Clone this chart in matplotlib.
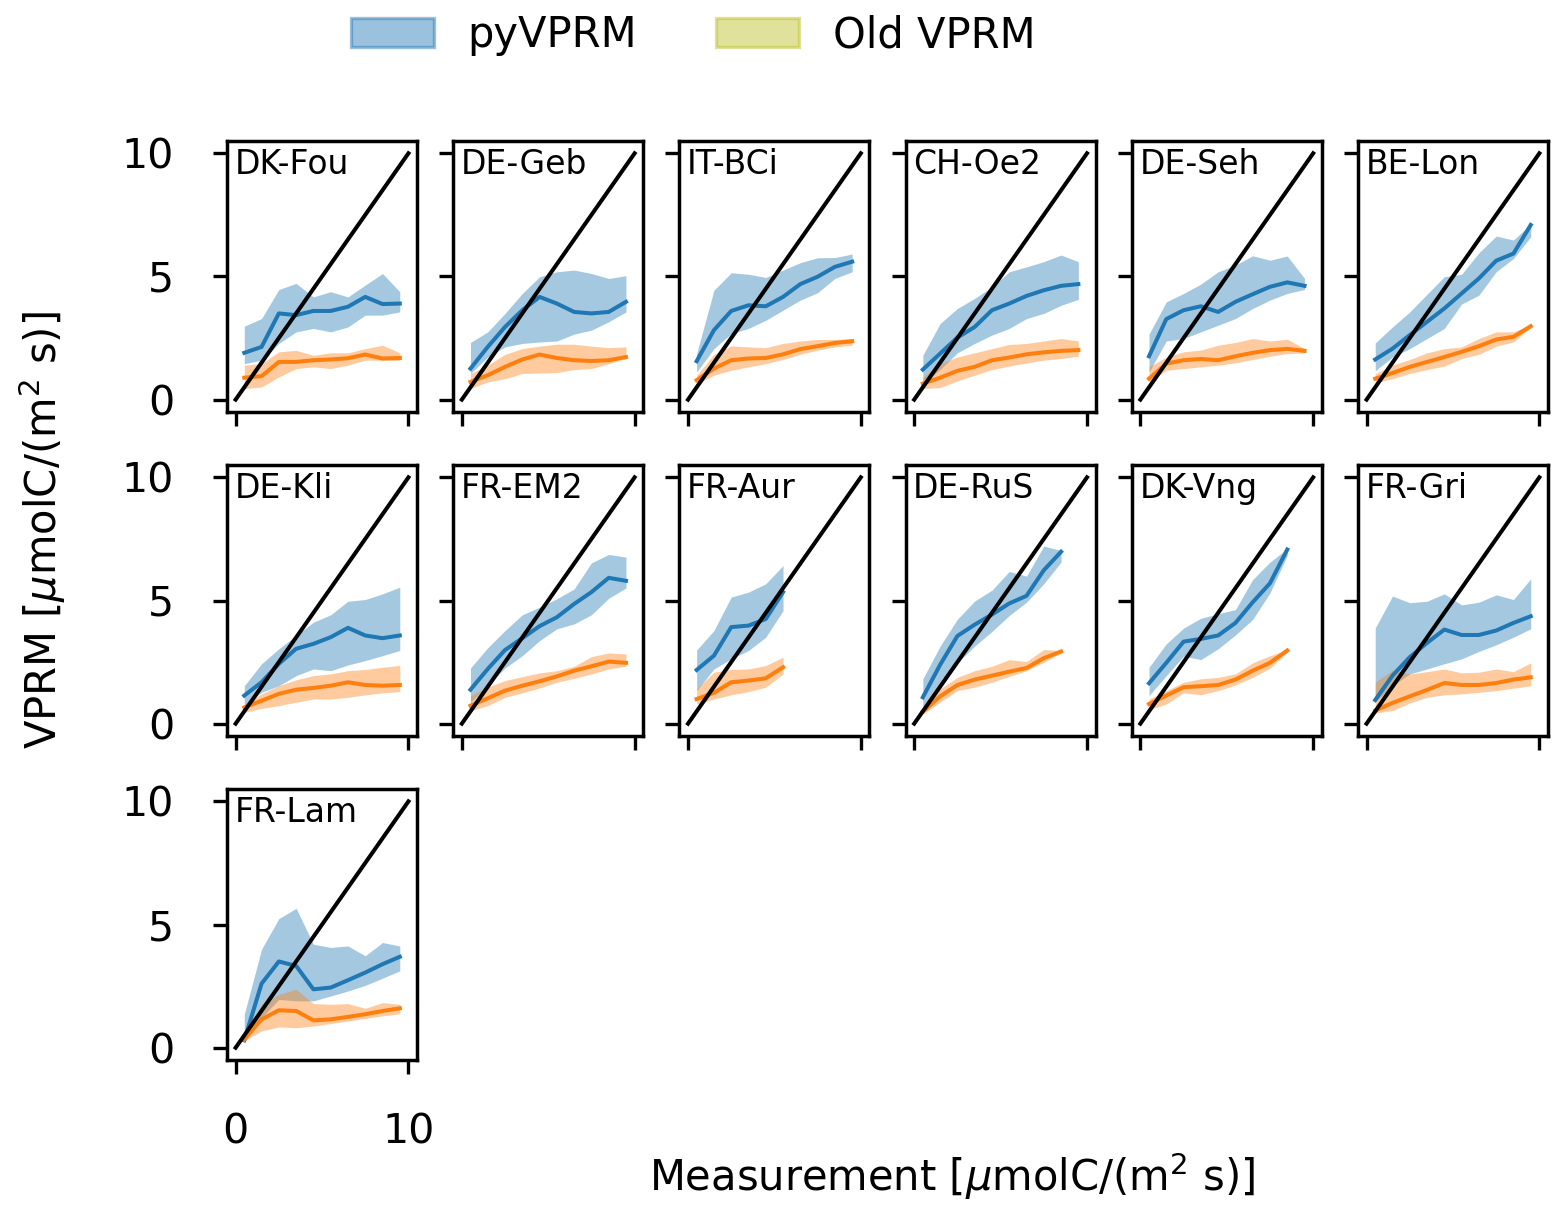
import numpy as np
import matplotlib
matplotlib.use("Agg")
import matplotlib.pyplot as plt
import matplotlib.patches as mpatches

# ---------------- data ----------------
sites = ["DK-Fou", "DE-Geb", "IT-BCi", "CH-Oe2", "DE-Seh", "BE-Lon",
         "DE-Kli", "FR-EM2", "FR-Aur", "DE-RuS", "DK-Vng", "FR-Gri", "FR-Lam"]

bin_centers = [0.5, 1.5, 2.5, 3.5, 4.5, 5.5, 6.5, 7.5, 8.5, 9.5]

py_mid = {
    "DK-Fou": [1.90, 2.14, 3.50, 3.43, 3.60, 3.60, 3.77, 4.17, 3.88, 3.90],
    "DE-Geb": [1.26, 2.14, 2.95, 3.63, 4.17, 3.90, 3.56, 3.50, 3.56, 3.97],
    "IT-BCi": [1.56, 2.82, 3.60, 3.83, 3.79, 4.17, 4.69, 4.99, 5.39, 5.60],
    "CH-Oe2": [1.22, 1.87, 2.52, 2.95, 3.63, 3.90, 4.21, 4.44, 4.62, 4.69],
    "DE-Seh": [1.76, 3.27, 3.63, 3.79, 3.56, 3.97, 4.28, 4.58, 4.76, 4.62],
    "BE-Lon": [1.63, 2.07, 2.62, 3.16, 3.70, 4.31, 4.92, 5.64, 5.93, 7.09],
    "DE-Kli": [1.14, 1.68, 2.43, 3.04, 3.24, 3.51, 3.89, 3.58, 3.47, 3.58],
    "FR-EM2": [1.38, 2.22, 2.99, 3.47, 3.96, 4.32, 4.86, 5.34, 5.92, 5.80],
    "FR-Aur": [2.18, 2.76, 3.92, 3.98, 4.25, 5.34],
    "DE-RuS": [1.07, 2.39, 3.56, 4.02, 4.43, 4.88, 5.19, 6.23, 6.98],
    "DK-Vng": [1.64, 2.47, 3.33, 3.44, 3.58, 4.09, 4.93, 5.70, 7.07],
    "FR-Gri": [0.96, 1.95, 2.70, 3.28, 3.82, 3.60, 3.60, 3.78, 4.09, 4.36],
    "FR-Lam": [0.30, 2.60, 3.50, 3.32, 2.37, 2.44, 2.74, 3.05, 3.39, 3.69],
}
py_hi = {
    "DK-Fou": [2.98, 3.29, 4.47, 4.72, 4.17, 4.38, 4.17, 4.65, 5.12, 4.38],
    "DE-Geb": [2.32, 2.75, 3.50, 4.31, 4.99, 5.19, 5.26, 5.12, 4.92, 5.03],
    "IT-BCi": [1.87, 4.44, 5.15, 5.09, 4.96, 5.26, 5.56, 5.76, 5.77, 5.91],
    "CH-Oe2": [1.80, 3.09, 3.70, 4.11, 4.58, 5.19, 5.39, 5.60, 5.87, 5.60],
    "DE-Seh": [2.66, 3.97, 4.31, 4.69, 5.19, 5.46, 5.84, 5.66, 5.83, 4.92],
    "BE-Lon": [2.30, 2.95, 3.56, 4.28, 4.99, 5.09, 5.96, 6.64, 6.48, 7.13],
    "DE-Kli": [1.54, 2.43, 3.04, 3.58, 4.12, 4.42, 4.97, 5.04, 5.27, 5.54],
    "FR-EM2": [2.26, 3.08, 3.78, 4.42, 4.73, 5.07, 5.47, 6.53, 6.87, 6.76],
    "FR-Aur": [2.99, 3.78, 5.14, 5.34, 5.68, 6.42],
    "DE-RuS": [1.82, 3.15, 4.24, 4.98, 5.42, 6.18, 5.99, 7.21, 7.03],
    "DK-Vng": [2.29, 3.24, 3.88, 4.28, 4.46, 4.63, 5.85, 6.56, 7.10],
    "FR-Gri": [3.88, 5.18, 4.91, 4.97, 5.27, 4.82, 4.93, 5.23, 5.04, 5.88],
    "FR-Lam": [1.36, 4.00, 5.24, 5.66, 4.20, 4.07, 4.13, 3.73, 4.27, 4.13],
}
py_lo = {
    "DK-Fou": [1.46, 1.60, 2.28, 2.75, 2.89, 2.75, 2.95, 3.43, 3.43, 3.56],
    "DE-Geb": [1.06, 1.73, 2.14, 2.28, 2.34, 2.38, 2.66, 2.82, 3.16, 3.56],
    "IT-BCi": [1.12, 2.07, 2.68, 2.89, 3.22, 3.63, 4.04, 4.34, 4.92, 5.19],
    "CH-Oe2": [0.65, 1.22, 1.90, 2.28, 2.62, 2.89, 3.29, 3.50, 3.83, 4.07],
    "DE-Seh": [1.12, 2.38, 2.48, 2.75, 3.02, 3.29, 3.70, 4.04, 4.31, 4.47],
    "BE-Lon": [1.17, 1.73, 2.07, 2.48, 2.89, 3.88, 4.24, 5.19, 5.73, 6.61],
    "DE-Kli": [0.76, 1.27, 1.54, 1.95, 2.22, 2.15, 2.38, 2.56, 2.76, 2.97],
    "FR-EM2": [0.87, 1.54, 2.26, 2.76, 3.37, 3.85, 4.05, 4.42, 5.09, 5.51],
    "FR-Aur": [1.34, 2.22, 2.63, 2.97, 3.51, 4.59],
    "DE-RuS": [0.53, 1.54, 2.47, 3.15, 3.74, 4.39, 4.93, 5.68, 6.56],
    "DK-Vng": [1.14, 1.95, 2.74, 2.60, 3.04, 3.60, 4.23, 5.31, 6.83],
    "FR-Gri": [0.87, 1.54, 2.02, 2.22, 2.43, 2.63, 2.93, 3.20, 3.51, 3.85],
    "FR-Lam": [0.20, 1.22, 1.96, 1.90, 1.90, 2.10, 2.30, 2.53, 2.82, 3.12],
}
old_mid = {
    "DK-Fou": [0.89, 0.95, 1.53, 1.53, 1.60, 1.63, 1.68, 1.83, 1.67, 1.69],
    "DE-Geb": [0.72, 0.99, 1.33, 1.63, 1.83, 1.69, 1.60, 1.57, 1.60, 1.73],
    "IT-BCi": [0.79, 1.26, 1.60, 1.67, 1.69, 1.84, 2.05, 2.17, 2.30, 2.37],
    "CH-Oe2": [0.65, 0.89, 1.17, 1.33, 1.60, 1.71, 1.84, 1.92, 1.98, 2.01],
    "DE-Seh": [0.85, 1.46, 1.60, 1.65, 1.60, 1.76, 1.90, 2.01, 2.06, 1.98],
    "BE-Lon": [0.85, 1.08, 1.33, 1.53, 1.73, 1.94, 2.17, 2.44, 2.55, 2.98],
    "DE-Kli": [0.66, 0.93, 1.21, 1.38, 1.45, 1.54, 1.68, 1.57, 1.54, 1.57],
    "FR-EM2": [0.73, 1.03, 1.34, 1.54, 1.72, 1.92, 2.15, 2.33, 2.52, 2.47],
    "FR-Aur": [1.00, 1.25, 1.68, 1.75, 1.84, 2.29],
    "DE-RuS": [0.49, 1.11, 1.57, 1.79, 1.95, 2.11, 2.26, 2.66, 2.93],
    "DK-Vng": [0.80, 1.14, 1.48, 1.52, 1.57, 1.79, 2.15, 2.47, 2.97],
    "FR-Gri": [0.53, 0.84, 1.11, 1.37, 1.65, 1.57, 1.57, 1.65, 1.79, 1.88],
    "FR-Lam": [0.34, 1.15, 1.52, 1.49, 1.11, 1.15, 1.25, 1.36, 1.49, 1.60],
}
old_hi = {
    "DK-Fou": [1.40, 1.46, 1.94, 2.00, 1.80, 1.90, 1.90, 2.07, 2.21, 1.90],
    "DE-Geb": [1.06, 1.40, 1.84, 2.07, 2.17, 2.25, 2.25, 2.17, 2.11, 2.14],
    "IT-BCi": [0.99, 1.84, 2.18, 2.14, 2.11, 2.28, 2.38, 2.44, 2.44, 2.48],
    "CH-Oe2": [0.92, 1.46, 1.73, 1.90, 2.07, 2.24, 2.28, 2.38, 2.48, 2.38],
    "DE-Seh": [1.33, 1.73, 1.94, 2.01, 2.21, 2.32, 2.48, 2.38, 2.45, 2.07],
    "BE-Lon": [1.06, 1.40, 1.63, 1.90, 2.07, 2.14, 2.48, 2.75, 2.75, 3.02],
    "DE-Kli": [0.80, 1.21, 1.54, 1.78, 1.95, 2.02, 2.15, 2.20, 2.29, 2.36],
    "FR-EM2": [1.14, 1.48, 1.75, 1.91, 2.06, 2.15, 2.33, 2.72, 2.87, 2.83],
    "FR-Aur": [1.41, 2.09, 2.20, 2.22, 2.36, 2.70],
    "DE-RuS": [0.66, 1.41, 1.88, 2.15, 2.33, 2.60, 2.52, 3.01, 2.97],
    "DK-Vng": [1.00, 1.34, 1.68, 1.82, 1.88, 2.02, 2.47, 2.76, 2.99],
    "FR-Gri": [1.68, 2.18, 2.02, 2.11, 2.22, 2.06, 2.09, 2.22, 2.11, 2.47],
    "FR-Lam": [0.41, 1.76, 2.17, 2.37, 1.79, 1.76, 1.79, 1.60, 1.83, 1.76],
}
old_lo = {
    "DK-Fou": [0.45, 0.51, 0.92, 1.26, 1.33, 1.26, 1.40, 1.60, 1.60, 1.60],
    "DE-Geb": [0.45, 0.72, 0.85, 1.06, 1.08, 1.10, 1.22, 1.26, 1.46, 1.67],
    "IT-BCi": [0.65, 0.99, 1.19, 1.33, 1.46, 1.63, 1.84, 2.01, 2.14, 2.21],
    "CH-Oe2": [0.45, 0.49, 0.76, 0.99, 1.22, 1.36, 1.49, 1.60, 1.67, 1.76],
    "DE-Seh": [0.72, 1.19, 1.26, 1.33, 1.40, 1.49, 1.63, 1.76, 1.87, 1.90],
    "BE-Lon": [0.68, 0.85, 1.06, 1.22, 1.36, 1.67, 1.84, 2.17, 2.34, 2.93],
    "DE-Kli": [0.46, 0.62, 0.73, 0.87, 1.00, 1.00, 1.07, 1.17, 1.25, 1.30],
    "FR-EM2": [0.53, 0.73, 1.07, 1.25, 1.45, 1.68, 1.84, 2.02, 2.22, 2.33],
    "FR-Aur": [0.80, 1.00, 1.17, 1.30, 1.48, 2.02],
    "DE-RuS": [0.39, 0.87, 1.34, 1.48, 1.68, 1.92, 2.15, 2.49, 2.87],
    "DK-Vng": [0.57, 0.80, 1.25, 1.17, 1.34, 1.57, 1.88, 2.25, 2.90],
    "FR-Gri": [0.43, 0.53, 0.84, 1.07, 1.17, 1.21, 1.27, 1.34, 1.44, 1.54],
    "FR-Lam": [0.27, 0.68, 0.84, 0.81, 0.88, 0.98, 1.08, 1.19, 1.29, 1.38],
}

one_to_one = [0, 10]
xticks = [0, 10]
yticks = [0, 5, 10]
legend_labels = ["pyVPRM", "Old VPRM"]
xlabel = r"Measurement [$\mu$molC/(m$^2$ s)]"
ylabel = r"VPRM [$\mu$molC/(m$^2$ s)]"

# ---------------- figure ----------------
W, H, DPI = 1566, 1213, 200
plt.rcParams["font.family"] = "DejaVu Sans"
fig = plt.figure(figsize=(W / DPI, H / DPI), dpi=DPI)

ncols, nrows = 6, 3
gs = fig.add_gridspec(nrows, ncols, left=227 / W, right=1548 / W,
                      top=1 - 141 / H, bottom=1 - 1060 / H,
                      wspace=0.19, hspace=0.196)

lw = 1.45
for i, site in enumerate(sites):
    r, c = divmod(i, ncols)
    ax = fig.add_subplot(gs[r, c])
    n = len(py_mid[site])
    x = np.array(bin_centers[:n])
    ax.fill_between(x, py_lo[site], py_hi[site], color="tab:blue", alpha=0.4, lw=0)
    ax.plot(x, py_mid[site], color="tab:blue", lw=lw)
    ax.fill_between(x, old_lo[site], old_hi[site], color="tab:orange", alpha=0.4, lw=0)
    ax.plot(x, old_mid[site], color="tab:orange", lw=lw)
    ax.plot(one_to_one, one_to_one, color="black", lw=lw)
    ax.set_xlim(-0.5, 10.5)
    ax.set_ylim(-0.5, 10.5)
    ax.set_xticks(xticks)
    ax.set_yticks(yticks)
    ax.tick_params(length=5, width=1.2, pad=14, labelsize=14.8)
    if c != 0:
        ax.set_yticklabels([])
    if site != "FR-Lam":
        ax.set_xticklabels([])
    for s in ax.spines.values():
        s.set_linewidth(1.25)
    ax.text(0.04, 0.975, site, transform=ax.transAxes, ha="left", va="top",
            fontsize=11.9)

handles = [mpatches.Patch(facecolor="tab:blue", edgecolor="tab:blue", alpha=0.45, lw=1.2),
           mpatches.Patch(facecolor="tab:olive", edgecolor="tab:olive", alpha=0.45, lw=1.2)]
fig.legend(handles, legend_labels, loc="upper center", bbox_to_anchor=(0.4425, 1.019),
           ncol=2, frameon=False, fontsize=15, handlelength=2.0, handleheight=0.7,
           handletextpad=0.8, columnspacing=1.9)

fig.text(952 / W, 1 - 1176 / H, xlabel, ha="center", va="center", fontsize=15)
fig.text(42 / W, 1 - 530 / H, ylabel, ha="center", va="center", rotation=90, fontsize=15)

fig.savefig("out.png", dpi=DPI)
